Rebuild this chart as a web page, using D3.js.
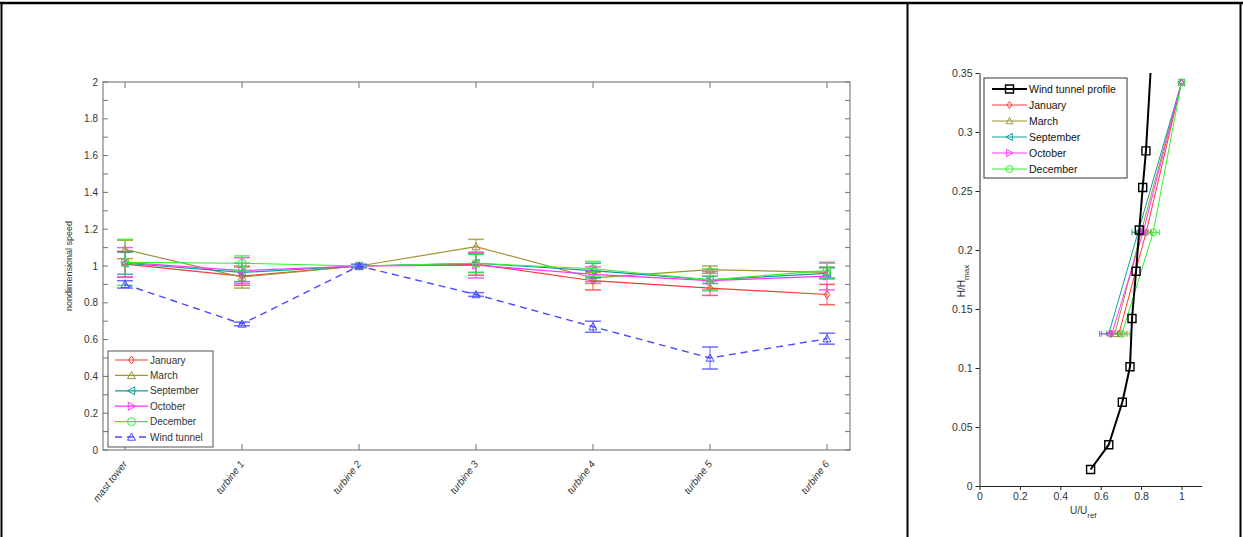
<!DOCTYPE html>
<html>
<head>
<meta charset="utf-8">
<script src="https://cdn.jsdelivr.net/npm/d3@7/dist/d3.min.js"></script>
<style>
html,body{margin:0;padding:0;background:#fff;}
svg{display:block;font-family:"Liberation Sans",Arial,sans-serif;}
</style>
</head>
<body>
<svg id="chart" width="1243" height="537"></svg>
<script>
// ---------- Left chart data ----------
const categories = ["mast tower","turbine 1","turbine 2","turbine 3","turbine 4","turbine 5","turbine 6"];
const january    = [1.01, 0.945, 1.0, 1.01, 0.92, 0.88, 0.845];
const march      = [1.09, 0.94, 1.0, 1.105, 0.935, 0.98, 0.965];
const september  = [1.015, 0.965, 1.0, 1.015, 0.975, 0.925, 0.96];
const october    = [1.02, 0.975, 1.0, 1.005, 0.955, 0.92, 0.945];
const december   = [1.02, 1.015, 1.0, 1.015, 0.985, 0.925, 0.975];
const windTunnel = [0.9, 0.685, 1.0, 0.845, 0.67, 0.5, 0.605];
const januaryErr    = [0.07, 0.05, 0, 0.06, 0.05, 0.04, 0.055];
const marchErr      = [0.05, 0.06, 0, 0.04, 0.03, 0.02, 0.03];
const septemberErr  = [0.06, 0.05, 0, 0.05, 0.04, 0.02, 0.03];
const octoberErr    = [0.08, 0.07, 0, 0.07, 0.04, 0.05, 0.075];
const decemberErr   = [0.125, 0.04, 0, 0.05, 0.04, 0.06, 0.04];
const windTunnelErr = [0.02, 0.01, 0.01, 0.01, 0.03, 0.06, 0.03];
const leftYTicks = [0,0.1,0.2,0.3,0.4,0.5,0.6,0.7,0.8,0.9,1,1.1,1.2,1.3,1.4,1.5,1.6,1.7,1.8,1.9,2];

// ---------- Right chart data ----------
const profileU = [0.55, 0.64, 0.707, 0.745, 0.755, 0.775, 0.791, 0.808, 0.824, 0.85];
const profileH = [0.014, 0.035, 0.071, 0.101, 0.142, 0.182, 0.217, 0.253, 0.284, 0.36];
const measH    = [0.129, 0.215, 0.342];
const janU = [0.69, 0.825, 1.0];
const marU = [0.67, 0.80, 1.0];
const sepU = [0.64, 0.785, 1.0];
const octU = [0.655, 0.81, 1.0];
const decU = [0.705, 0.86, 1.0];
const janUErr = [0.04, 0.025, 0];
const marUErr = [0.04, 0.025, 0];
const sepUErr = [0.045, 0.03, 0];
const octUErr = [0.05, 0.025, 0];
const decUErr = [0.04, 0.03, 0];
const rightXTicks = [0, 0.2, 0.4, 0.6, 0.8, 1];
const rightYTicks = [0, 0.05, 0.1, 0.15, 0.2, 0.25, 0.3, 0.35];

const svg = d3.select("#chart");

// ---------- frame ----------
svg.append("line").attr("x1",0).attr("x2",1243).attr("y1",3).attr("y2",3).attr("stroke","#000").attr("stroke-width",2.5);
svg.append("line").attr("x1",1.5).attr("x2",1.5).attr("y1",2).attr("y2",537).attr("stroke","#000").attr("stroke-width",2);
svg.append("line").attr("x1",907.5).attr("x2",907.5).attr("y1",2).attr("y2",537).attr("stroke","#000").attr("stroke-width",2);
svg.append("line").attr("x1",1240.5).attr("x2",1240.5).attr("y1",2).attr("y2",537).attr("stroke","#000").attr("stroke-width",2);

// ---------- marker helper ----------
function markerPath(type, s) {
  const h = s/2;
  switch(type) {
    case "diamond": return `M0,${-h}L${h*0.7},0L0,${h}L${-h*0.7},0Z`;
    case "triUp": return `M0,${-h}L${h},${h*0.8}L${-h},${h*0.8}Z`;
    case "triLeft": return `M${-h},0L${h*0.8},${-h}L${h*0.8},${h}Z`;
    case "triRight": return `M${h},0L${-h*0.8},${-h}L${-h*0.8},${h}Z`;
    case "square": return `M${-h},${-h}H${h}V${h}H${-h}Z`;
    case "circle": return d3.symbol().type(d3.symbolCircle).size(Math.PI*h*h)();
  }
}
function drawMarker(g, type, x, y, s, color, sw) {
  g.append("path").attr("d", markerPath(type, s))
    .attr("transform", `translate(${x},${y})`)
    .attr("fill","none").attr("stroke",color).attr("stroke-width",sw||1);
}

// =============== LEFT CHART ===============
const xL = d3.scalePoint().domain(categories).range([125, 827]);
const yL = d3.scaleLinear().domain([0, 2]).range([450, 82]);
const L = {x0:103, x1:850, y0:82, y1:450};
const gL = svg.append("g");

gL.append("rect").attr("x",L.x0).attr("y",L.y0).attr("width",L.x1-L.x0).attr("height",L.y1-L.y0)
  .attr("fill","none").attr("stroke","#808080").attr("stroke-width",1.2);

leftYTicks.forEach((v,i) => {
  const y = yL(v);
  gL.append("line").attr("x1",L.x0).attr("x2",L.x0+5).attr("y1",y).attr("y2",y).attr("stroke","#707070");
  gL.append("line").attr("x1",L.x1).attr("x2",L.x1-5).attr("y1",y).attr("y2",y).attr("stroke","#707070");
  if (i % 2 === 0) {
    gL.append("text").attr("x",L.x0-5).attr("y",y).attr("dy","0.35em").attr("text-anchor","end")
      .attr("font-size",10).attr("fill","#333").text(d3.format("~g")(v));
  }
});
categories.forEach(c => {
  const x = xL(c);
  gL.append("line").attr("x1",x).attr("x2",x).attr("y1",L.y1).attr("y2",L.y1-6).attr("stroke","#707070");
  gL.append("line").attr("x1",x).attr("x2",x).attr("y1",L.y0).attr("y2",L.y0+6).attr("stroke","#707070");
  gL.append("text").attr("transform",`translate(${x},${462}) rotate(-52)`)
    .attr("text-anchor","end").attr("dy","0.35em").attr("font-size",10).attr("font-style","italic")
    .attr("fill","#333").text(c);
});
gL.append("text").attr("transform",`translate(72,266) rotate(-90)`).attr("text-anchor","middle")
  .attr("font-size",9).attr("fill","#333").text("nondimensional speed");

const leftSeries = [
  {name:"January", vals:january, err:januaryErr, color:"#ff3838", marker:"diamond", dash:null},
  {name:"March", vals:march, err:marchErr, color:"#9c9631", marker:"triUp", dash:null},
  {name:"September", vals:september, err:septemberErr, color:"#139a9a", marker:"triLeft", dash:null},
  {name:"October", vals:october, err:octoberErr, color:"#ff33ff", marker:"triRight", dash:null},
  {name:"December", vals:december, err:decemberErr, color:"#33ee33", marker:"circle", dash:null},
  {name:"Wind tunnel", vals:windTunnel, err:windTunnelErr, color:"#4a4aff", marker:"triUp", dash:"7,5"}
];
const lineL = d3.line().x((d,i)=>xL(categories[i])).y(d=>yL(d));
leftSeries.forEach(s => {
  const g = gL.append("g");
  s.vals.forEach((v,i) => {
    if (!s.err[i]) return;
    const x = xL(categories[i]);
    const ya = yL(v + s.err[i]), yb = yL(v - s.err[i]);
    g.append("line").attr("x1",x).attr("x2",x).attr("y1",ya).attr("y2",yb).attr("stroke",s.color).attr("stroke-width",1).attr("opacity",0.85);
    g.append("line").attr("x1",x-8).attr("x2",x+8).attr("y1",ya).attr("y2",ya).attr("stroke",s.color).attr("stroke-width",1.5).attr("opacity",0.8);
    g.append("line").attr("x1",x-8).attr("x2",x+8).attr("y1",yb).attr("y2",yb).attr("stroke",s.color).attr("stroke-width",1.5).attr("opacity",0.8);
  });
  g.append("path").attr("d", lineL(s.vals)).attr("fill","none").attr("stroke",s.color)
    .attr("stroke-width",s.dash?1.4:1.2).attr("stroke-dasharray",s.dash);
  s.vals.forEach((v,i) => drawMarker(g, s.marker, xL(categories[i]), yL(v), 8, s.color, 1));
});

const lgL = gL.append("g");
lgL.append("rect").attr("x",108).attr("y",351).attr("width",105).attr("height",96)
  .attr("fill","#fff").attr("stroke","#555").attr("stroke-width",1);
leftSeries.forEach((s,i) => {
  const y = 360 + i*15.4;
  lgL.append("line").attr("x1",115).attr("x2",148).attr("y1",y).attr("y2",y).attr("stroke",s.color)
    .attr("stroke-width",s.dash?1.4:1.2).attr("stroke-dasharray",s.dash);
  drawMarker(lgL, s.marker, 131.5, y, 8, s.color, 1);
  lgL.append("text").attr("x",150).attr("y",y).attr("dy","0.35em").attr("font-size",10).attr("fill","#333").text(s.name);
});

// =============== RIGHT CHART ===============
const xR = d3.scaleLinear().domain([0, 1.1]).range([979.5, 1201.7]);
const yR = d3.scaleLinear().domain([0, 0.35]).range([486, 73]);
const gR = svg.append("g");
svg.append("clipPath").attr("id","clipR").append("rect")
  .attr("x",979.5).attr("y",73).attr("width",1201.7-979.5).attr("height",486-73);

const axB = gR.append("g").attr("transform","translate(0,486)")
  .call(d3.axisBottom(xR).tickValues(rightXTicks).tickSize(4).tickSizeOuter(0).tickFormat(d3.format("~g")));
const axLft = gR.append("g").attr("transform","translate(979.5,0)")
  .call(d3.axisLeft(yR).tickValues(rightYTicks).tickSize(4).tickSizeOuter(0).tickFormat(d3.format("~g")));
[axB, axLft].forEach(a => {
  a.selectAll("path").attr("stroke","#222").attr("stroke-width",1);
  a.selectAll("line").attr("stroke","#222");
  a.selectAll("text").attr("font-size",10.5).attr("fill","#333").attr("font-family","'Liberation Sans',Arial,sans-serif");
});

const yl = gR.append("text").attr("transform","translate(965,281) rotate(-90)").attr("text-anchor","middle")
  .attr("font-size",10).attr("fill","#333");
yl.append("tspan").text("H/H");
yl.append("tspan").attr("font-size",8).attr("dy",4).text("max");
const xl = gR.append("text").attr("x",1070).attr("y",514).attr("font-size",10).attr("fill","#333");
xl.append("tspan").text("U/U");
xl.append("tspan").attr("font-size",8).attr("dy",4).text("ref");

const plotR = gR.append("g").attr("clip-path","url(#clipR)");
const rightSeries = [
  {name:"January", u:janU, err:janUErr, color:"#ff3838", marker:"diamond"},
  {name:"March", u:marU, err:marUErr, color:"#9c9631", marker:"triUp"},
  {name:"September", u:sepU, err:sepUErr, color:"#139a9a", marker:"triLeft"},
  {name:"October", u:octU, err:octUErr, color:"#ff33ff", marker:"triRight"},
  {name:"December", u:decU, err:decUErr, color:"#33ee33", marker:"circle"}
];
const lineR = d3.line().x(d=>xR(d[0])).y(d=>yR(d[1]));
rightSeries.forEach(s => {
  const g = plotR.append("g");
  s.u.forEach((u,i) => {
    if (!s.err[i]) return;
    const y = yR(measH[i]);
    const xa = xR(u - s.err[i]), xb = xR(u + s.err[i]);
    g.append("line").attr("x1",xa).attr("x2",xb).attr("y1",y).attr("y2",y).attr("stroke",s.color).attr("stroke-width",1);
    g.append("line").attr("x1",xa).attr("x2",xa).attr("y1",y-3).attr("y2",y+3).attr("stroke",s.color).attr("stroke-width",1);
    g.append("line").attr("x1",xb).attr("x2",xb).attr("y1",y-3).attr("y2",y+3).attr("stroke",s.color).attr("stroke-width",1);
  });
  g.append("path").attr("d", lineR(s.u.map((u,i)=>[u, measH[i]]))).attr("fill","none")
    .attr("stroke",s.color).attr("stroke-width",1);
  s.u.forEach((u,i) => drawMarker(g, s.marker, xR(u), yR(measH[i]), 7, s.color, 1));
});
const gP = plotR.append("g");
gP.append("path").attr("d", lineR(profileU.map((u,i)=>[u, profileH[i]]))).attr("fill","none")
  .attr("stroke","#000").attr("stroke-width",2);
profileU.forEach((u,i) => drawMarker(gP, "square", xR(u), yR(profileH[i]), 8, "#000", 1.4));

const lgR = gR.append("g");
lgR.append("rect").attr("x",984).attr("y",78).attr("width",143).attr("height",100)
  .attr("fill","#fff").attr("stroke","#333").attr("stroke-width",1);
const legR = [{name:"Wind tunnel profile", color:"#000", marker:"square", w:2}]
  .concat(rightSeries.map(s => ({name:s.name, color:s.color, marker:s.marker, w:1})));
legR.forEach((s,i) => {
  const y = 89 + i*16;
  lgR.append("line").attr("x1",992).attr("x2",1027).attr("y1",y).attr("y2",y).attr("stroke",s.color).attr("stroke-width",s.w);
  drawMarker(lgR, s.marker, 1009.5, y, s.marker==="square"?8:7, s.color, s.w===2?1.4:1);
  lgR.append("text").attr("x",1029).attr("y",y).attr("dy","0.35em").attr("font-size",10.5).attr("fill","#111").text(s.name);
});
</script>
</body>
</html>
